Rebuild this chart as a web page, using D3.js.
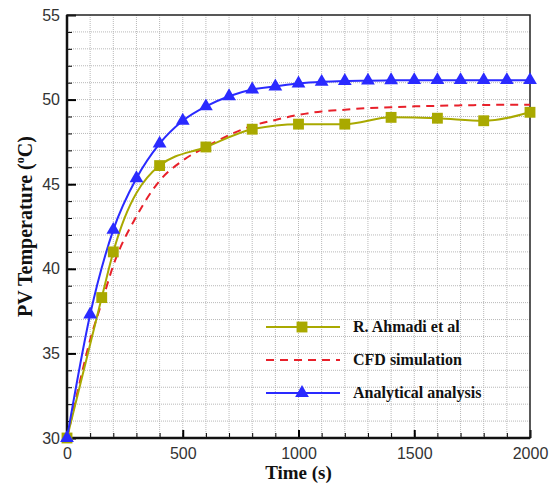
<!DOCTYPE html>
<html>
<head>
<meta charset="utf-8">
<script src="https://cdn.jsdelivr.net/npm/d3@7"></script>
<style>
  body { margin: 0; background: #fff; }
  .tick text { font-family: "Liberation Sans", Arial, sans-serif; font-size: 16px; fill: #333; }
  .title { font-family: "Liberation Serif", "Times New Roman", serif; font-weight: bold; fill: #111; }
</style>
</head>
<body>
<script>
// series
const ahmadiTime = [0, 150, 200, 400, 600, 800, 1000, 1200, 1400, 1600, 1800, 2000]
const ahmadiTemp = [30, 38.3, 41.0, 46.1, 47.2, 48.25, 48.55, 48.55, 48.95, 48.9, 48.75, 49.25]

const cfdTime = [0, 50, 100, 150, 200, 300, 400, 500, 600, 700, 800, 900, 1000, 1100, 1200, 1300, 1400, 1500, 1600, 1700, 1800, 1900, 2000]
const cfdTemp = [30, 33.0, 35.8, 38.0, 40.2, 43.1, 45.2, 46.4, 47.2, 47.9, 48.45, 48.8, 49.1, 49.3, 49.4, 49.5, 49.55, 49.6, 49.63, 49.66, 49.68, 49.7, 49.7]

const analyticTime = [0, 100, 200, 300, 400, 500, 600, 700, 800, 900, 1000, 1100, 1200, 1300, 1400, 1500, 1600, 1700, 1800, 1900, 2000]
const analyticTemp = [30, 37.3, 42.3, 45.35, 47.4, 48.75, 49.6, 50.2, 50.6, 50.78, 50.95, 51.05, 51.1, 51.12, 51.14, 51.15, 51.15, 51.15, 51.15, 51.15, 51.15]

const xTicks = [0, 500, 1000, 1500, 2000]
const yTicks = [30, 35, 40, 45, 50, 55]
const legendLabels = ['R. Ahmadi et al', 'CFD simulation', 'Analytical analysis']

const w = 553
const h = 488
const m = {left: 67, right: 23, top: 15, bottom: 50}

const olive = '#a9a900'
const red = '#e8202a'
const blue = '#2a2aff'

const svg = d3.select('body')
              .append('svg')
              .attr('width', w)
              .attr('height', h)

const xScale = d3.scaleLinear()
                 .domain([0, 2000])
                 .range([m.left, w - m.right])

const yScale = d3.scaleLinear()
                 .domain([30, 55])
                 .range([h - m.bottom, m.top])

// dotted grid
svg.append('g')
  .selectAll('line')
  .data(d3.range(100, 2000, 100))
  .enter()
  .append('line')
  .attr('x1', d => xScale(d)).attr('x2', d => xScale(d))
  .attr('y1', yScale(30)).attr('y2', yScale(55))
  .attr('stroke', '#b8b8b8')
  .attr('stroke-dasharray', '1,1')

svg.append('g')
  .selectAll('line')
  .data(d3.range(31, 55, 1))
  .enter()
  .append('line')
  .attr('x1', xScale(0)).attr('x2', xScale(2000))
  .attr('y1', d => yScale(d)).attr('y2', d => yScale(d))
  .attr('stroke', '#b8b8b8')
  .attr('stroke-dasharray', '1,1')

// minor ticks, inward
const minorX = d3.axisTop(xScale).tickValues(d3.range(0, 2001, 100)).tickSize(5).tickFormat('')
svg.append('g')
  .attr('transform', 'translate(0,' + yScale(30) + ')')
  .call(minorX)
  .call(g => g.select('.domain').remove())

const minorY = d3.axisRight(yScale).tickValues(d3.range(30, 56, 1)).tickSize(5).tickFormat('')
svg.append('g')
  .attr('transform', 'translate(' + xScale(0) + ',0)')
  .call(minorY)
  .call(g => g.select('.domain').remove())

// major axes
const xAxis = d3.axisBottom(xScale).tickValues(xTicks).tickSize(0).tickPadding(10).tickFormat(d3.format('d'))
svg.append('g')
  .attr('class', 'x-axis')
  .attr('transform', 'translate(0,' + yScale(30) + ')')
  .call(xAxis)
  .call(g => g.select('.domain').remove())

svg.append('g')
  .attr('transform', 'translate(0,' + yScale(30) + ')')
  .call(d3.axisTop(xScale).tickValues(xTicks).tickSize(8).tickFormat(''))
  .call(g => g.select('.domain').remove())
  .selectAll('line').attr('stroke-width', 2)

const yAxis = d3.axisLeft(yScale).tickValues(yTicks).tickSize(0).tickPadding(7)
svg.append('g')
  .attr('class', 'y-axis')
  .attr('transform', 'translate(' + xScale(0) + ',0)')
  .call(yAxis)
  .call(g => g.select('.domain').remove())

svg.append('g')
  .attr('transform', 'translate(' + xScale(0) + ',0)')
  .call(d3.axisRight(yScale).tickValues(yTicks).tickSize(9).tickFormat(''))
  .call(g => g.select('.domain').remove())
  .selectAll('line').attr('stroke-width', 2)

// frame
svg.append('rect')
  .attr('x', xScale(0)).attr('y', yScale(55))
  .attr('width', xScale(2000) - xScale(0))
  .attr('height', yScale(30) - yScale(55))
  .attr('fill', 'none')
  .attr('stroke', '#222')
  .attr('stroke-width', 1.5)

svg.append('line')
  .attr('x1', xScale(0)).attr('x2', xScale(2000))
  .attr('y1', yScale(30)).attr('y2', yScale(30))
  .attr('stroke', '#111').attr('stroke-width', 2.5)
svg.append('line')
  .attr('x1', xScale(0)).attr('x2', xScale(0))
  .attr('y1', yScale(30)).attr('y2', yScale(55))
  .attr('stroke', '#111').attr('stroke-width', 2.5)

// series
const line = d3.line()
               .x(d => xScale(d[0]))
               .y(d => yScale(d[1]))
               .curve(d3.curveMonotoneX)

const ahmadi = ahmadiTime.map((t, i) => [t, ahmadiTemp[i]])
const cfd = cfdTime.map((t, i) => [t, cfdTemp[i]])
const analytic = analyticTime.map((t, i) => [t, analyticTemp[i]])

svg.append('path')
  .datum(cfd)
  .attr('d', line)
  .attr('fill', 'none')
  .attr('stroke', red)
  .attr('stroke-width', 2)
  .attr('stroke-dasharray', '8,6')

svg.append('path')
  .datum(ahmadi)
  .attr('d', line)
  .attr('fill', 'none')
  .attr('stroke', olive)
  .attr('stroke-width', 2)

svg.append('path')
  .datum(analytic)
  .attr('d', line)
  .attr('fill', 'none')
  .attr('stroke', blue)
  .attr('stroke-width', 2)

const square = d3.symbol().type(d3.symbolSquare).size(118)
const triangle = d3.symbol().type(d3.symbolTriangle).size(82)

svg.append('g')
  .selectAll('path')
  .data(ahmadi)
  .enter()
  .append('path')
  .attr('d', square)
  .attr('transform', d => 'translate(' + xScale(d[0]) + ',' + yScale(d[1]) + ')')
  .attr('fill', olive)

svg.append('g')
  .selectAll('path')
  .data(analytic)
  .enter()
  .append('path')
  .attr('d', triangle)
  .attr('transform', d => 'translate(' + xScale(d[0]) + ',' + yScale(d[1]) + ')')
  .attr('fill', blue)

// legend
const legend = svg.append('g').attr('transform', 'translate(266,327)')
const legendStyle = [
  {color: olive, dash: null, mark: square},
  {color: red, dash: '8,6', mark: null},
  {color: blue, dash: null, mark: triangle}
]
legendLabels.forEach((label, i) => {
  const row = legend.append('g').attr('transform', 'translate(0,' + i * 33 + ')')
  row.append('line')
    .attr('x1', 0).attr('x2', 74)
    .attr('stroke', legendStyle[i].color)
    .attr('stroke-width', 2)
    .attr('stroke-dasharray', legendStyle[i].dash)
  if (legendStyle[i].mark) {
    row.append('path')
      .attr('d', legendStyle[i].mark)
      .attr('transform', 'translate(36,0)')
      .attr('fill', legendStyle[i].color)
  }
  row.append('text')
    .attr('class', 'title')
    .attr('x', 87)
    .attr('y', 5)
    .style('font-size', '16px')
    .text(label)
})

// axis titles
svg.append('text')
  .attr('class', 'title')
  .attr('x', (xScale(0) + xScale(2000)) / 2)
  .attr('y', 479)
  .attr('text-anchor', 'middle')
  .style('font-size', '19px')
  .text('Time (s)')

const yTitle = svg.append('text')
  .attr('class', 'title')
  .attr('transform', 'translate(32,' + (yScale(30) + yScale(55)) / 2 + ') rotate(-90)')
  .attr('text-anchor', 'middle')
  .style('font-size', '20px')
yTitle.append('tspan').text('PV Temperature (')
yTitle.append('tspan').attr('dy', -8).style('font-size', '12px').text('o')
yTitle.append('tspan').attr('dy', 8).text('C)')
</script>
</body>
</html>
